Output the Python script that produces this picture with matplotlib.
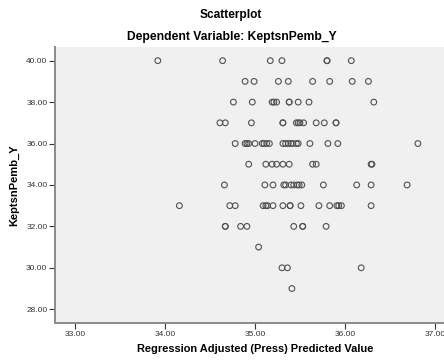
import numpy as np
import matplotlib.pyplot as plt

plt.rcParams['font.family'] = ['Liberation Sans', 'DejaVu Sans']

# predicted values grouped by observed KeptsnPemb_Y
pred_40 = [33.92, 34.64, 35.17, 35.30, 35.80, 35.80, 36.07]
pred_39 = [34.89, 34.99, 35.26, 35.37, 35.64, 35.83, 36.08, 36.26]
pred_38 = [34.76, 34.97, 35.19, 35.21, 35.24, 35.38, 35.38, 35.48, 35.60, 36.32]
pred_37 = [34.61, 34.67, 34.96, 35.31, 35.31, 35.46, 35.48, 35.50, 35.54, 35.68, 35.77, 35.90, 35.90]
pred_36 = [34.78, 34.89, 34.91, 34.93, 35.00, 35.08, 35.10, 35.13, 35.16, 35.31,
           35.34, 35.37, 35.40, 35.42, 35.46, 35.48, 35.61, 35.81, 35.92, 36.81]
pred_35 = [34.93, 35.12, 35.19, 35.24, 35.31, 35.38, 35.64, 35.68, 36.29, 36.30]
pred_34 = [34.66, 35.11, 35.20, 35.32, 35.34, 35.40, 35.43, 35.47, 35.49, 35.52,
           35.76, 36.13, 36.29, 36.69]
pred_33 = [34.16, 34.72, 34.78, 35.09, 35.12, 35.14, 35.20, 35.31, 35.39, 35.39,
           35.51, 35.71, 35.83, 35.91, 35.93, 35.96, 36.29]
pred_32 = [34.67, 34.67, 34.84, 34.91, 35.43, 35.53, 35.53, 35.79]
pred_31 = [35.04]
pred_30 = [35.30, 35.36, 36.18]
pred_29 = [35.41]

groups = {40: pred_40, 39: pred_39, 38: pred_38, 37: pred_37, 36: pred_36, 35: pred_35,
          34: pred_34, 33: pred_33, 32: pred_32, 31: pred_31, 30: pred_30, 29: pred_29}

x = np.concatenate([np.array(v) for v in groups.values()])
y = np.concatenate([np.full(len(v), k, dtype=float) for k, v in groups.items()])

x_ticks = [33, 34, 35, 36, 37]
y_ticks = [28, 30, 32, 34, 36, 38, 40]

fig = plt.figure(figsize=(4.44, 3.61), dpi=100)
ax = fig.add_axes([0.1239, 0.1044, 0.9347, 0.7654])
ax.set_facecolor('#f0f0f0')

ax.scatter(x, y, s=17, facecolors='none', edgecolors='#505050', linewidths=0.8)

ax.set_xlim(32.778, 37.389)
ax.set_ylim(27.32, 40.66)
ax.set_xticks(x_ticks)
ax.set_yticks(y_ticks)
ax.set_xticklabels(['%.2f' % t for t in x_ticks])
ax.set_yticklabels(['%.2f' % t for t in y_ticks])
ax.tick_params(direction='out', length=4, width=0.8, color='#333333',
               labelsize=6, labelcolor='#333333', pad=1.5)

for side in ['top', 'right']:
    ax.spines[side].set_visible(False)
for side in ['left', 'bottom']:
    ax.spines[side].set_color('#8a8a8a')
    ax.spines[side].set_linewidth(1.4)

ax.set_ylabel('KeptsnPemb_Y', fontsize=8, fontweight='bold', labelpad=5)
fig.text(255.5 / 444, 1 - 349 / 361, 'Regression Adjusted (Press) Predicted Value',
         ha='center', va='center', fontsize=7.9, fontweight='bold')

fig.text(230.5 / 444, 1 - 15 / 361, 'Scatterplot', ha='center', va='center',
         fontsize=8.6, fontweight='bold')
fig.text(231.7 / 444, 1 - 37 / 361, 'Dependent Variable: KeptsnPemb_Y', ha='center',
         va='center', fontsize=8.7, fontweight='bold')

fig.savefig('out.png', dpi=100)
